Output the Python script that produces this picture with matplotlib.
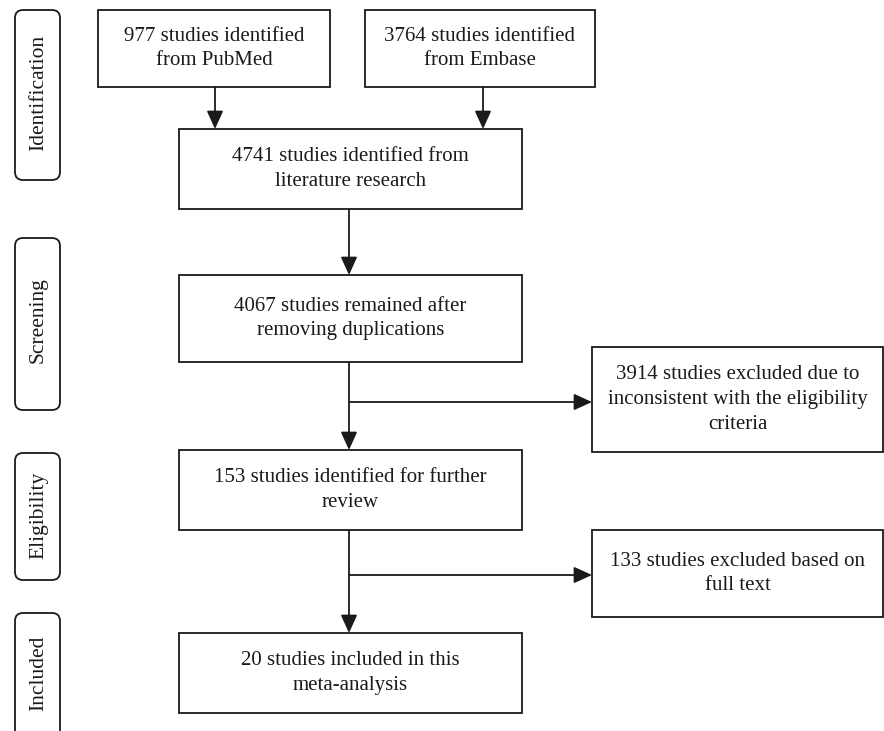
import matplotlib
matplotlib.use("Agg")
import matplotlib.pyplot as plt
from matplotlib.patches import Rectangle, FancyBboxPatch

# texts of the flow chart
etapas = ["Identification", "Screening", "Eligibility", "Included"]
cajas = [
    "977 studies identified\nfrom PubMed",
    "3764 studies identified\nfrom Embase",
    "4741 studies identified from\nliterature research",
    "4067 studies remained after\nremoving duplications",
    "3914 studies excluded due to\ninconsistent with the eligibility\ncriteria",
    "153 studies identified for further\nreview",
    "133 studies excluded based on\nfull text",
    "20 studies included in this\nmeta-analysis",
]

# layout in pixels (x0, y0, x1, y1), y grows downward
pos_etapas = [(15, 10, 60, 180), (15, 238, 60, 410), (15, 453, 60, 580), (15, 613, 60, 740)]
pos_cajas = [
    (98, 10, 330, 87),
    (365, 10, 595, 87),
    (179, 129, 522, 209),
    (179, 275, 522, 362),
    (592, 347, 883, 452),
    (179, 450, 522, 530),
    (592, 530, 883, 617),
    (179, 633, 522, 713),
]

fuente = "Liberation Serif"
color = "#1a1a1a"
lw = 1.3

fig = plt.figure(figsize=(8.84, 7.31), dpi=100)
ax = fig.add_axes([0, 0, 1, 1])
ax.set_xlim(0, 884)
ax.set_ylim(731, 0)
ax.axis("off")

centros_etapas = [93, 320, 515, 673]
for texto, (x0, y0, x1, y1), yc in zip(etapas, pos_etapas, centros_etapas):
    ax.add_patch(FancyBboxPatch((x0 + 8, y0 + 8), x1 - x0 - 16, y1 - y0 - 16,
                                boxstyle="round,pad=8", fc="white", ec=color, lw=lw))
    ax.text((x0 + x1) / 2 + 1, yc, texto, rotation=90, ha="center", va="center",
            fontsize=15.5, family=fuente, color=color)

for texto, (x0, y0, x1, y1) in zip(cajas, pos_cajas):
    ax.add_patch(Rectangle((x0, y0), x1 - x0, y1 - y0, fc="white", ec=color, lw=lw))
    ax.text((x0 + x1) / 2, (y0 + y1) / 2, texto, ha="center", va="center",
            fontsize=15, family=fuente, color=color, linespacing=1.4)


def flecha(x0, y0, x1, y1):
    ax.annotate("", xy=(x1, y1), xytext=(x0, y0),
                arrowprops=dict(arrowstyle="-|>,head_length=1.1,head_width=0.5",
                                color=color, lw=lw, shrinkA=0, shrinkB=0,
                                mutation_scale=10))


xc = 349
flecha(215, 87, 215, 129)
flecha(483, 87, 483, 129)
flecha(xc, 209, xc, 275)
flecha(xc, 362, xc, 450)
flecha(xc, 402, 592, 402)
flecha(xc, 530, xc, 633)
flecha(xc, 575, 592, 575)

plt.savefig("out.png", dpi=100)
